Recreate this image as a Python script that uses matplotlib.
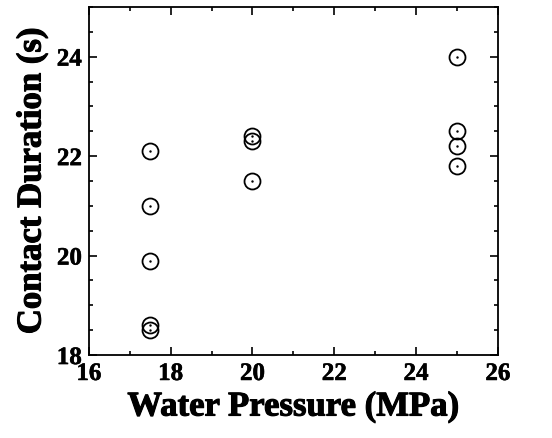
import matplotlib
matplotlib.use("Agg")
from matplotlib import pyplot as plt
from matplotlib import patheffects
from matplotlib.ticker import MultipleLocator

# water pressure (MPa) and measured contact duration (s)
pressure = [17.5, 17.5, 17.5, 17.5, 17.5, 20, 20, 20, 25, 25, 25, 25]
duration = [22.1, 21.0, 19.9, 18.6, 18.5, 22.4, 22.3, 21.5, 24.0, 22.5, 22.2, 21.8]

plt.rcParams['font.family'] = ['Liberation Serif', 'DejaVu Serif']
plt.rcParams['font.weight'] = 'bold'

fig = plt.figure(figsize=(5.52, 4.39), dpi=100)
ax = fig.add_axes([0.161, 0.189, 0.741, 0.793])

ax.plot(pressure, duration, 'o', ms=11.5, mfc='none', mec='black', mew=1.3, ls='none')
ax.plot(pressure, duration, '.', ms=1.5, color='black', ls='none')

ax.set_xlim(16, 26)
ax.set_ylim(18, 25)
ax.xaxis.set_major_locator(MultipleLocator(2))
ax.xaxis.set_minor_locator(MultipleLocator(1))
ax.yaxis.set_major_locator(MultipleLocator(2))
ax.yaxis.set_minor_locator(MultipleLocator(0.5))
ax.tick_params(which='both', direction='in', top=True, right=True, width=1.2)
ax.tick_params(which='major', length=6, labelsize=18, pad=5)
ax.tick_params(which='minor', length=3)
for s in ax.spines.values():
    s.set_linewidth(1.3)

heavy = [patheffects.withStroke(linewidth=0.8, foreground='black')]
ax.set_xlabel('Water Pressure (MPa)', fontsize=25, fontweight='bold', labelpad=4, path_effects=heavy)
ax.set_ylabel('Contact Duration (s)', fontsize=25, fontweight='bold', labelpad=6, path_effects=heavy)
for lbl in ax.get_xticklabels() + ax.get_yticklabels():
    lbl.set_path_effects([patheffects.withStroke(linewidth=0.4, foreground='black')])

fig.savefig('out.png', dpi=100)
